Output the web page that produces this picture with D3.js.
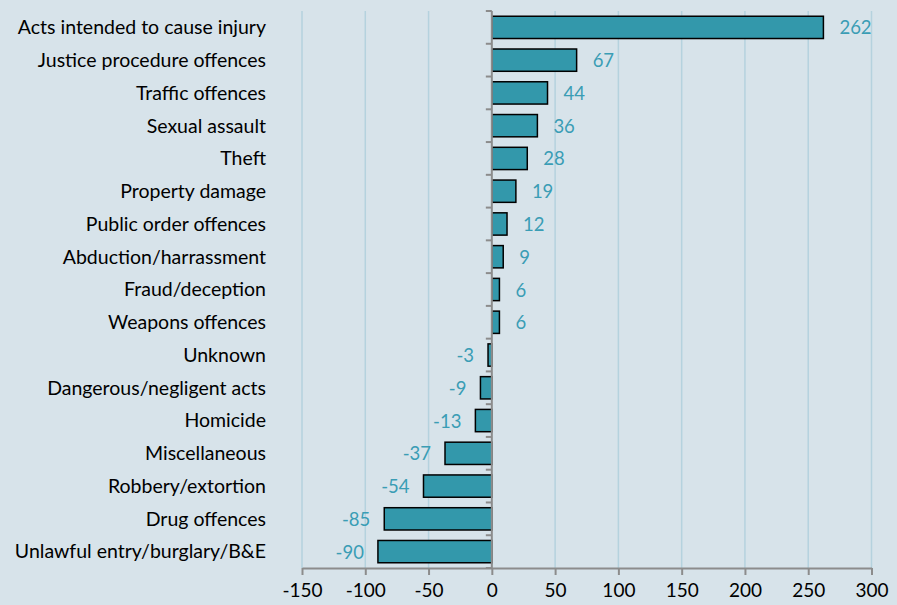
<!DOCTYPE html>
<html><head><meta charset="utf-8">
<script src="https://cdn.jsdelivr.net/npm/d3@7"></script>
<style>
html,body{margin:0;padding:0;background:#d7e3ea;}
svg{display:block;}
</style></head>
<body><svg id="c" width="897" height="605"></svg>
<script>
const categories = ["Acts intended to cause injury","Justice procedure offences","Traffic offences","Sexual assault","Theft","Property damage","Public order offences","Abduction/harrassment","Fraud/deception","Weapons offences","Unknown","Dangerous/negligent acts","Homicide","Miscellaneous","Robbery/extortion","Drug offences","Unlawful entry/burglary/B&E"];
const values = [262,67,44,36,28,19,12,9,6,6,-3,-9,-13,-37,-54,-85,-90];
const xTicks = [-150,-100,-50,0,50,100,150,200,250,300];

const svg = d3.select("#c");
const font = "Lato, 'Open Sans', sans-serif";
svg.append("rect").attr("width",897).attr("height",605).attr("fill","#d7e3ea");

const x = d3.scaleLinear().domain([-150,300]).range([302,871.5]);
const y = d3.scaleBand().domain(categories).range([11,568]).paddingInner(0.32).paddingOuter(0.16);

// gridlines
svg.append("g").selectAll("line").data(xTicks.filter(d=>d!==0)).join("line")
  .attr("x1",d=>x(d)).attr("x2",d=>x(d)).attr("y1",11).attr("y2",568)
  .attr("stroke","#b5d2de").attr("stroke-width",1.5);

// bars
svg.append("g").selectAll("rect").data(values).join("rect")
  .attr("x",(d)=>x(Math.min(0,d)))
  .attr("width",d=>Math.abs(x(d)-x(0)))
  .attr("y",(d,i)=>y(categories[i]))
  .attr("height",y.bandwidth())
  .attr("fill","#3398ab").attr("stroke","#000").attr("stroke-width",1.5);

// x axis
const xAxis = d3.axisBottom(x).tickValues(xTicks).tickSize(7).tickSizeOuter(0).tickFormat(d=>String(d));
const gx = svg.append("g").attr("transform","translate(0,568)").call(xAxis);
gx.select(".domain").attr("stroke","#8c8c8c").attr("stroke-width",2);
gx.selectAll(".tick line").attr("stroke","#8c8c8c").attr("stroke-width",2);
gx.selectAll(".tick text").attr("fill","#000").attr("font-family",font).attr("font-size",19).attr("dy","0.95em").attr("y",11);

// y axis (at zero) with boundary ticks
const bounds = d3.range(categories.length+1).map(i=>11+i*y.step());
svg.append("line").attr("x1",x(0)).attr("x2",x(0)).attr("y1",11).attr("y2",568)
  .attr("stroke","#8c8c8c").attr("stroke-width",2);
svg.append("g").selectAll("line").data(bounds).join("line")
  .attr("x1",x(0)-6).attr("x2",x(0)).attr("y1",d=>d).attr("y2",d=>d)
  .attr("stroke","#8c8c8c").attr("stroke-width",2);

// category labels
svg.append("g").selectAll("text").data(categories).join("text")
  .attr("x",266).attr("y",d=>y(d)+y.bandwidth()/2).attr("dy","0.35em")
  .attr("text-anchor","end").attr("font-family",font).attr("font-size",19.5).attr("fill","#000")
  .text(d=>d);

// value labels
svg.append("g").selectAll("text").data(values).join("text")
  .attr("x",d=> d>=0 ? x(d)+16 : x(d)-14)
  .attr("y",(d,i)=>y(categories[i])+y.bandwidth()/2).attr("dy","0.38em")
  .attr("text-anchor",d=> d>=0 ? "start":"end")
  .attr("font-family",font).attr("font-size",18.5).attr("fill","#3a9db5")
  .text(d=>d);
</script></body></html>
